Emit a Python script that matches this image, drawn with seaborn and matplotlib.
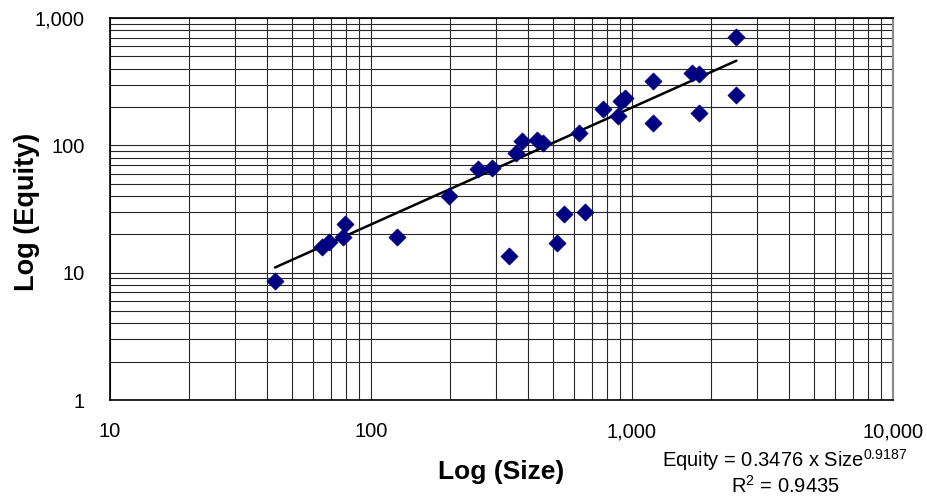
import numpy as np
import pandas as pd
import seaborn as sns
import matplotlib.pyplot as plt
from matplotlib.ticker import FuncFormatter, LogLocator, NullFormatter

# values
size = [42.9, 64.7, 69, 78.3, 79.5, 125.4, 199.5, 256.5, 289.8, 338, 358, 380,
        433.5, 457, 514, 550.5, 661, 626, 774, 881, 905.6, 940, 1199, 1199,
        1694, 1811, 1808, 2513, 2513]
equity = [8.6, 15.9, 17.4, 18.9, 24.3, 19.1, 40.1, 64.6, 65.8, 13.5, 86.3, 107.3,
          109.9, 104.7, 17.1, 29.1, 30.0, 125.4, 192.5, 169.7, 224, 236, 321, 151,
          367, 361, 180, 705, 248]

# power trendline shown on the chart
coef = 0.3476
expo = 0.9187
r2 = 0.9435

df = pd.DataFrame({'Size': size, 'Equity': equity})
trend_x = np.array([min(size), max(size)])
trend = pd.DataFrame({'Size': trend_x, 'Equity': coef * trend_x ** expo})

sns.set_style('white')
plt.rcParams['font.family'] = ['Liberation Sans', 'DejaVu Sans']
plt.rcParams['mathtext.default'] = 'regular'
plt.rcParams['text.color'] = 'black'
plt.rcParams['xtick.color'] = 'black'
plt.rcParams['ytick.color'] = 'black'

fig = plt.figure(figsize=(9.28, 5.01), dpi=100)
ax = fig.add_axes([110 / 928, 1 - 400 / 501, 783 / 928, 382 / 501])

ax.set_xscale('log')
ax.set_yscale('log')
ax.set_xlim(10, 10000)
ax.set_ylim(1, 1000)

# Excel-style grid on every major and minor decade line
ax.xaxis.set_minor_locator(LogLocator(base=10, subs=np.arange(2, 10)))
ax.yaxis.set_minor_locator(LogLocator(base=10, subs=np.arange(2, 10)))
ax.xaxis.set_minor_formatter(NullFormatter())
ax.yaxis.set_minor_formatter(NullFormatter())
ax.grid(True, which='both', color='0.15', linewidth=0.8)
ax.set_axisbelow(True)

sns.lineplot(data=trend, x='Size', y='Equity', color='black', linewidth=1.8, ax=ax)
sns.scatterplot(data=df, x='Size', y='Equity', marker='D', s=76, color='#000080',
                edgecolor='#000080', linewidth=0.5, ax=ax, zorder=3)

comma = FuncFormatter(lambda v, p: f'{v:,.0f}')
ax.xaxis.set_major_formatter(comma)
ax.yaxis.set_major_formatter(comma)
ax.tick_params(axis='both', which='major', labelsize=14.5, length=4, width=1,
               direction='out', color='black', labelcolor='black')
ax.tick_params(axis='x', which='major', pad=12)
ax.tick_params(axis='y', which='major', pad=14)
ax.tick_params(axis='both', which='minor', length=0)

for side in ['left', 'bottom', 'top']:
    ax.spines[side].set_color('black')
    ax.spines[side].set_linewidth(1.2)
ax.spines['right'].set_color('0.55')
ax.spines['right'].set_linewidth(1.6)

ax.set_xlabel('')
ax.set_ylabel('')
fig.text(501 / 928, 1 - 472 / 501, 'Log (Size)', ha='center', va='center',
         fontsize=19, fontweight='bold', color='black')
fig.text(27 / 928, 1 - 212 / 501, 'Log (Equity)', ha='center', va='center',
         rotation=90, fontsize=19.5, fontweight='bold', color='black')

fig.text(785 / 928, 1 - 472 / 501,
         f'Equity = {coef} x Size$^{{{expo}}}$\nR$^2$ = {r2}',
         ha='center', va='center', multialignment='center', fontsize=14.5,
         linespacing=1.1, color='black')

fig.savefig('out.png', dpi=100)
